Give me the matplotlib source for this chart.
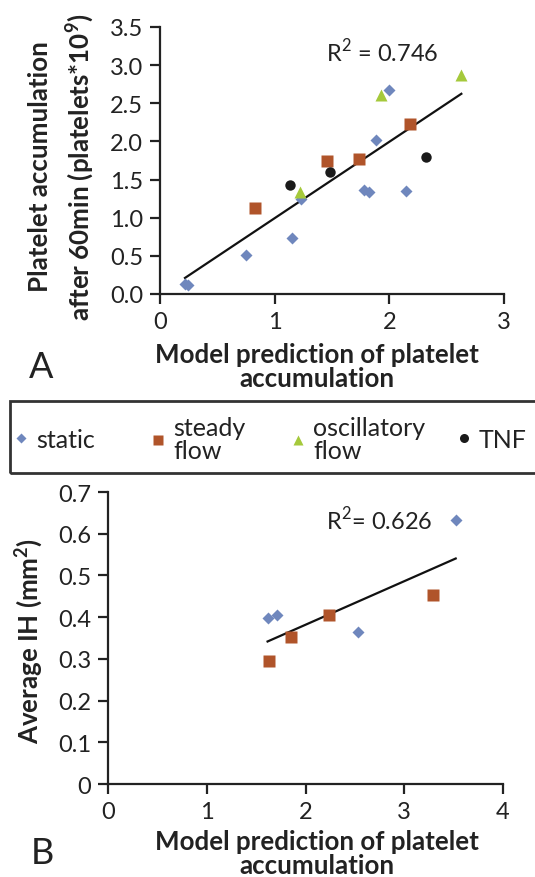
import numpy as np
import matplotlib.pyplot as plt
from matplotlib.lines import Line2D
from matplotlib.patches import Rectangle

W, H = 535, 878
plt.rcParams['font.family'] = ['Lato', 'DejaVu Sans']
plt.rcParams['mathtext.fontset'] = 'custom'
plt.rcParams['mathtext.rm'] = 'Lato'
plt.rcParams['mathtext.bf'] = 'Lato:bold'

# panel A: platelet accumulation vs model prediction
a_static_x = [0.218, 0.241, 0.747, 1.151, 1.230, 1.776, 1.823, 1.881, 1.994, 2.142]
a_static_y = [0.131, 0.118, 0.512, 0.740, 1.247, 1.369, 1.343, 2.021, 2.673, 1.356]
a_steady_x = [0.831, 1.459, 1.738, 2.177]
a_steady_y = [1.133, 1.741, 1.767, 2.231]
a_osc_x = [1.224, 1.924, 2.628]
a_osc_y = [1.339, 2.607, 2.865]
a_tnf_x = [1.131, 1.485, 2.320]
a_tnf_y = [1.426, 1.601, 1.794]
a_xticks = [0, 1, 2, 3]
a_yticks = [0.0, 0.5, 1.0, 1.5, 2.0, 2.5, 3.0, 3.5]
a_ylabels = ["0.0", "0.5", "1.0", "1.5", "2.0", "2.5", "3.0", "3.5"]

# panel B: average IH vs model prediction
b_static_x = [1.616, 1.711, 2.533, 3.521]
b_static_y = [0.399, 0.404, 0.365, 0.632]
b_steady_x = [1.633, 1.849, 2.240, 3.291]
b_steady_y = [0.294, 0.352, 0.406, 0.452]
b_xticks = [0, 1, 2, 3, 4]
b_yticks = [0, 0.1, 0.2, 0.3, 0.4, 0.5, 0.6, 0.7]
b_ylabels = ["0", "0.1", "0.2", "0.3", "0.4", "0.5", "0.6", "0.7"]

legend_labels = ["static", "steady\nflow", "oscillatory\nflow", "TNF"]

c_static = "#6f87bd"
c_steady = "#b0542a"
c_osc = "#a5c93b"
c_tnf = "#1a1a1a"
dark = "#222222"
tick_fs = 17
lab_fs = 18.6


def px(x, y):
    return x / W, 1 - y / H


def box(l, t, r, b):
    return [l / W, 1 - b / H, (r - l) / W, (b - t) / H]


def style(ax):
    for s in ["top", "right"]:
        ax.spines[s].set_visible(False)
    for s in ["left", "bottom"]:
        ax.spines[s].set_linewidth(1.6)
        ax.spines[s].set_color(dark)
    ax.tick_params(direction="out", length=7, width=1.6, colors=dark,
                   labelsize=tick_fs, pad=5)


def trend(ax, xs, ys):
    x = np.concatenate(xs)
    y = np.concatenate(ys)
    k, c = np.polyfit(x, y, 1)
    xx = np.array([x.min(), x.max()])
    ax.plot(xx, k * xx + c, color="#111111", lw=1.6, zorder=2)


fig = plt.figure(figsize=(W / 100, H / 100), dpi=100)

# ---- A
axA = fig.add_axes(box(160, 28, 504, 295))
style(axA)
axA.plot(a_static_x, a_static_y, "D", color=c_static, ms=6.5, mec="none", zorder=3)
axA.plot(a_steady_x, a_steady_y, "s", color=c_steady, ms=8, mec="none", zorder=3)
axA.plot(a_osc_x, a_osc_y, "^", color=c_osc, ms=8.5, mec="none", zorder=3)
axA.plot(a_tnf_x, a_tnf_y, "o", color=c_tnf, ms=7.5, mec="none", zorder=3)
trend(axA, [np.array(a_static_x), np.array(a_steady_x), np.array(a_osc_x), np.array(a_tnf_x)],
      [np.array(a_static_y), np.array(a_steady_y), np.array(a_osc_y), np.array(a_tnf_y)])
axA.set_xlim(0, 3)
axA.set_ylim(0, 3.5)
axA.set_xticks(a_xticks)
axA.set_yticks(a_yticks)
axA.set_yticklabels(a_ylabels)
axA.text(1.447, 3.06, "R$^{2}$ = 0.746", fontsize=17, color=dark)

# ---- B
axB = fig.add_axes(box(108, 493, 503, 785))
style(axB)
axB.plot(b_static_x, b_static_y, "D", color=c_static, ms=6.5, mec="none", zorder=3)
axB.plot(b_steady_x, b_steady_y, "s", color=c_steady, ms=8, mec="none", zorder=3)
trend(axB, [np.array(b_static_x), np.array(b_steady_x)],
      [np.array(b_static_y), np.array(b_steady_y)])
axB.set_xlim(0, 4)
axB.set_ylim(0, 0.7)
axB.set_xticks(b_xticks)
axB.set_yticks(b_yticks)
axB.set_yticklabels(b_ylabels)
axB.text(2.206, 0.612, "R$^{2}$= 0.626", fontsize=17, color=dark)

# axis titles
fig.text(*px(62, 167), "Platelet accumulation\nafter 60min (platelets*10$^{\\mathbf{9}}$)",
         rotation=90, ha="center", va="center", fontsize=lab_fs, fontweight="bold",
         color=dark, linespacing=1.45)
fig.text(*px(29, 641), "Average IH (mm$^{\\mathbf{2}}$)", rotation=90, ha="center",
         va="center", fontsize=lab_fs, fontweight="bold", color=dark)
xl = "Model prediction of platelet\naccumulation"
fig.text(*px(317, 387), xl, ha="center", va="baseline", fontsize=lab_fs,
         fontweight="bold", color=dark, linespacing=1.0)
fig.text(*px(317, 874), xl, ha="center", va="baseline", fontsize=lab_fs,
         fontweight="bold", color=dark, linespacing=1.0)
fig.text(*px(41, 367), "A", ha="center", va="center", fontsize=26, color=dark)
fig.text(*px(42, 854), "B", ha="center", va="center", fontsize=26, color=dark)

# legend: one small legend per entry, inside a shared frame
handles = [
    Line2D([], [], ls="none", marker="D", color=c_static, ms=5.5, mec="none"),
    Line2D([], [], ls="none", marker="s", color=c_steady, ms=6.5, mec="none"),
    Line2D([], [], ls="none", marker="^", color=c_osc, ms=7, mec="none"),
    Line2D([], [], ls="none", marker="o", color=c_tnf, ms=6.5, mec="none"),
]
handle_x = [21, 158, 298, 464]
for h, lab, hx in zip(handles, legend_labels, handle_x):
    lg = fig.legend([h], [lab], loc="center left", bbox_to_anchor=px(hx - 7.5, 440),
                    fontsize=18, handlelength=0.6, handletextpad=0.3,
                    borderpad=0, borderaxespad=0, frameon=False)
    for t in lg.get_texts():
        t.set_color(dark)
        t.set_linespacing(0.95)
fig.patches.append(Rectangle(px(10, 474), 540 / W, 72 / H, transform=fig.transFigure,
                             fill=False, edgecolor="#333333", lw=2))

fig.savefig("out.png", dpi=100)
